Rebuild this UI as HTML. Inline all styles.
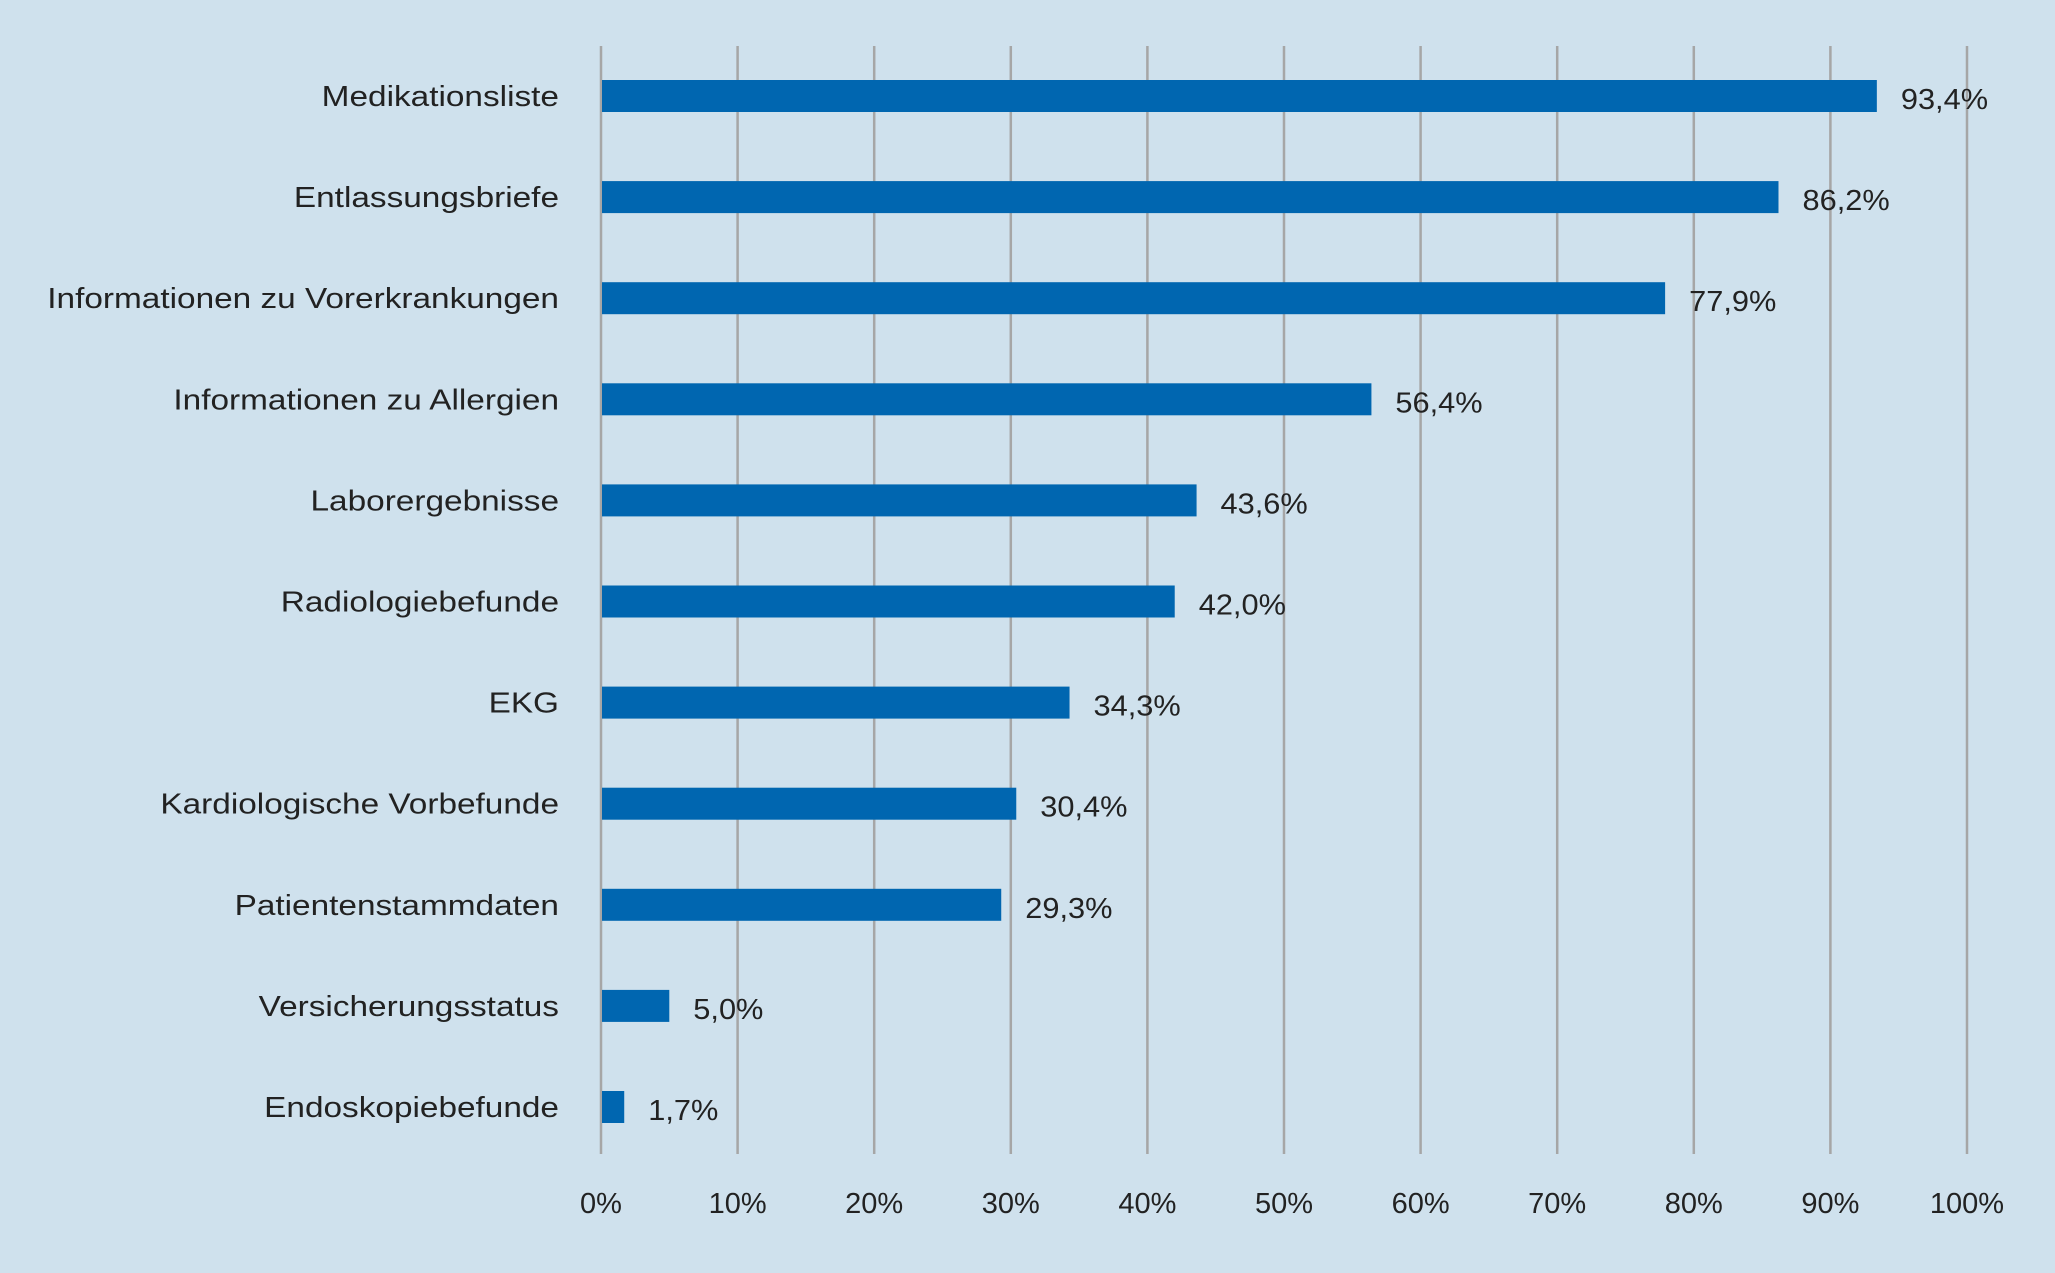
<!DOCTYPE html>
<html><head><meta charset="utf-8"><style>
html,body{margin:0;padding:0;background:#cfe1ed;}
svg{display:block;font-family:"Liberation Sans",sans-serif;}
</style></head><body>
<svg id="chart" width="2055" height="1273" viewBox="0 0 2055 1273">
<rect width="2055" height="1273" fill="#cfe1ed"/>
<g id="grid"></g><g id="bars"></g><g id="labels"></g>
</svg>
<script>
const categories=["Medikationsliste","Entlassungsbriefe","Informationen zu Vorerkrankungen","Informationen zu Allergien","Laborergebnisse","Radiologiebefunde","EKG","Kardiologische Vorbefunde","Patientenstammdaten","Versicherungsstatus","Endoskopiebefunde"];
const values=[93.4,86.2,77.9,56.4,43.6,42.0,34.3,30.4,29.3,5.0,1.7];
const valueLabels=["93,4%","86,2%","77,9%","56,4%","43,6%","42,0%","34,3%","30,4%","29,3%","5,0%","1,7%"];
const ticks=[0,10,20,30,40,50,60,70,80,90,100];
const tickLabels=["0%","10%","20%","30%","40%","50%","60%","70%","80%","90%","100%"];
const NS="http://www.w3.org/2000/svg";
const x=v=>601+v*13.66;
const y=i=>96+i*101.1;
function mk(t,a,p){const e=document.createElementNS(NS,t);for(const k in a)e.setAttribute(k,a[k]);p.appendChild(e);return e;}
const grid=document.getElementById('grid'),bars=document.getElementById('bars'),labels=document.getElementById('labels');
ticks.forEach((t,i)=>{
 const l=mk('line',{x1:x(t),x2:x(t),y1:46,y2:1154,stroke:'#a6a6a6','stroke-width':2.5},grid);
 
 
 const tx=mk('text',{x:x(t),y:1213,'text-anchor':'middle','font-size':29,fill:'#222'},labels);
 tx.textContent=tickLabels[i];
 
 
});
categories.forEach((c,i)=>{
 const r=mk('rect',{x:x(0)+1,y:y(i)-16,width:x(values[i])-x(0)-1,height:32,fill:'#0066b0'},bars);
 
 
 const cl=mk('text',{x:559,y:y(i)+10,'text-anchor':'end','font-size':29,fill:'#222'},labels);
 cl.textContent=c;
 
 
 const w=cl.getComputedTextLength();
 if(w>0){cl.setAttribute('textLength',(w*1.15).toFixed(1));cl.setAttribute('lengthAdjust','spacingAndGlyphs');}
 const vl=mk('text',{x:x(values[i])+24,y:y(i)+13,'font-size':29,fill:'#222'},labels);
 vl.textContent=valueLabels[i];
 
 
 const w2=vl.getComputedTextLength();
 if(w2>0){vl.setAttribute('textLength',(w2*1.06).toFixed(1));vl.setAttribute('lengthAdjust','spacingAndGlyphs');}
});
</script>
</body></html>
